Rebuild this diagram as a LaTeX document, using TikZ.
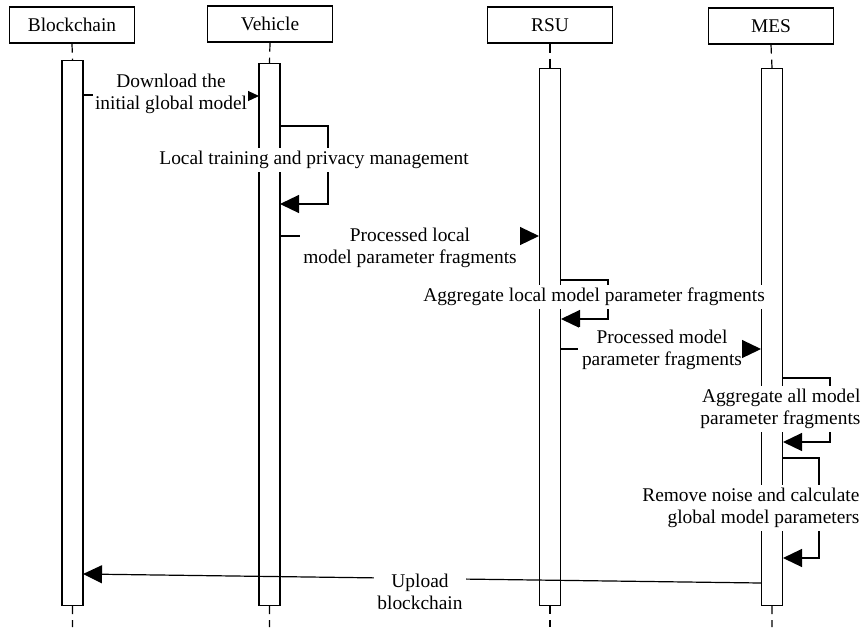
\documentclass[tikz,border=0pt]{standalone}
\usepackage{fontspec}
\setmainfont{Liberation Serif}
\usetikzlibrary{arrows.meta}
\tikzset{
  head/.style={draw, minimum width=62.5pt, minimum height=18pt, inner sep=0pt},
  bar/.style={draw, fill=white, minimum width=10.5pt, inner sep=0pt, anchor=north},
  life/.style={dash pattern=on 4.5pt off 3pt},
  msg/.style={-{Triangle[length=9.5pt,width=9pt]}},
  lbl/.style={fill=white, align=center, inner sep=1.5pt}
}
\begin{document}
\begin{tikzpicture}[x=0.5pt, y=-0.5pt, line width=0.6pt,
    every node/.append style={font=\fontsize{9.7}{11.3}\selectfont}]
  \useasboundingbox (0,0) rectangle (861,627);
  % participants
  \node[head] (bc) at (72,25) {Blockchain};
  \node[head] (veh) at (270,24) {Vehicle};
  \node[head] (rsu) at (550,25) {RSU};
  \node[head] (mes) at (771,26) {MES};
  \coordinate (bcend) at (72.5,627);
  \coordinate (vehend) at (269.5,627);
  \coordinate (rsuend) at (550,627);
  \coordinate (mesend) at (772,627);
  % lifelines
  \draw[life] (bc.south) -- (72.5,60) (72.5,605) -- (bcend);
  \draw[life] (veh.south) -- (269.5,63) (269.5,605) -- (vehend);
  \draw[life] (rsu.south) -- (550,68) (550,605) -- (rsuend);
  \draw[life] (mes.south) -- (772,68) (772,605) -- (mesend);
  % activation bars
  \node[bar, minimum height=272.5pt] (bcbar) at (72.5,60) {};
  \node[bar, minimum height=271pt] (vehbar) at (269.5,63) {};
  \node[bar, minimum height=268.5pt] (rsubar) at (550,68) {};
  \node[bar, minimum height=268.5pt] (mesbar) at (772,68) {};

  % download
  \coordinate (m1a) at (83,95);
  \coordinate (m1b) at (259,96);
  \node[lbl, inner sep=0.5pt] (m1l) at (171,94) {Download the\\initial global model};
  \draw (m1a) -- (m1a -| m1l.west);
  \draw[-{Triangle[length=5.5pt,width=5pt]}] (m1l.east |- m1b) -- (m1b);

  % local training
  \coordinate (s1a) at (280,126);
  \coordinate (s1b) at (280,204);
  \draw[msg] (s1a) -- ++(48,0) |- (s1b);
  \node[lbl] (s1l) at (314,160) {Local training and privacy management};

  % processed local
  \coordinate (m2a) at (280,236);
  \coordinate (m2b) at (539,236);
  \node[lbl] (m2l) at (410,248) {Processed local\\model parameter fragments};
  \draw (m2a) -- (m2a -| m2l.west);
  \draw[msg] (m2l.east |- m2b) -- (m2b);

  % aggregate local
  \coordinate (s2a) at (561,280);
  \coordinate (s2b) at (561,319);
  \draw[msg] (s2a) -- ++(47,0) |- (s2b);
  \node[lbl] (s2l) at (594,297) {Aggregate local model parameter fragments};

  % processed model
  \coordinate (m3a) at (561,349);
  \coordinate (m3b) at (761,349);
  \node[lbl] (m3l) at (662,350) {Processed model\\parameter fragments};
  \draw (m3a) -- (m3a -| m3l.west);
  \draw[msg] (m3l.east |- m3b) -- (m3b);

  % aggregate all
  \coordinate (s3a) at (783,378);
  \coordinate (s3b) at (783,442);
  \draw[msg] (s3a) -- ++(47,0) |- (s3b);
  \node[lbl, align=right, anchor=east] (s3l) at (864,409) {Aggregate all model\\parameter fragments};

  % remove noise
  \coordinate (s4a) at (783,458);
  \coordinate (s4b) at (783,558);
  \draw[msg] (s4a) -- ++(36,0) |- (s4b);
  \node[lbl, align=right, anchor=east] (s4l) at (863,508) {Remove noise and calculate\\global model parameters};

  % upload
  \coordinate (ua) at (761,583);
  \coordinate (ub) at (83,574);
  \draw[msg] (ua) -- (ub);
  \node[lbl] (ul) at (420,592) {Upload\\blockchain};
\end{tikzpicture}
\end{document}
